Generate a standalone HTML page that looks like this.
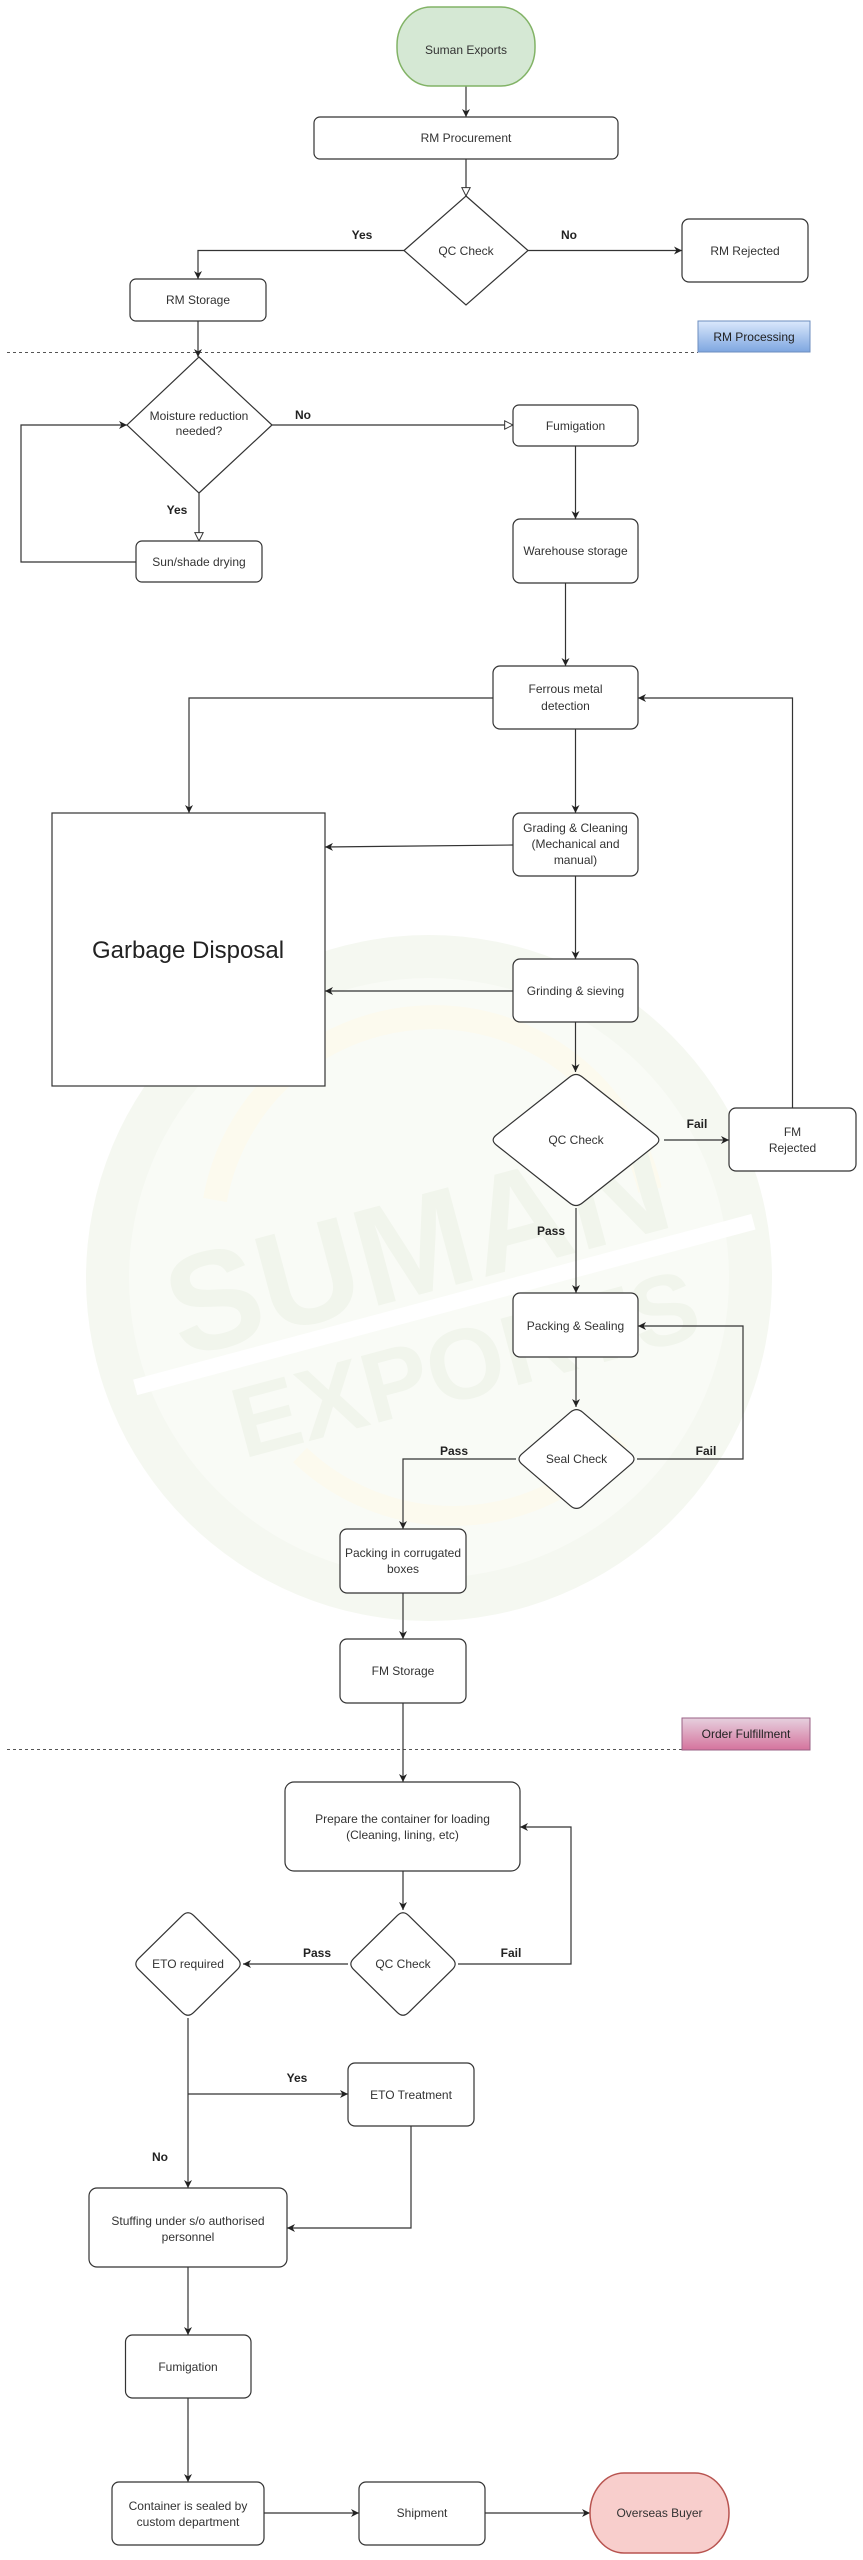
<!DOCTYPE html>
<html>
<head>
<meta charset="utf-8">
<style>
  html,body{margin:0;padding:0;background:#fff;}
  body{width:863px;height:2560px;overflow:hidden;}
  svg{display:block;}
  text{font-family:"Liberation Sans",Arial,Helvetica,sans-serif;}
  .t{font-size:12px;fill:#333;text-anchor:middle;}
  .b{font-size:12px;font-weight:bold;fill:#222;text-anchor:middle;}
  .n{fill:#fff;stroke:#333;stroke-width:1.2;}
  .e{fill:none;stroke:#333;stroke-width:1.2;}
</style>
</head>
<body>
<svg width="863" height="2560" viewBox="0 0 863 2560" xmlns="http://www.w3.org/2000/svg">
  <defs>
    <marker id="a" viewBox="0 0 10 10" refX="10" refY="5" markerWidth="8" markerHeight="8" markerUnits="userSpaceOnUse" orient="auto">
      <path d="M0,0 L10,5 L0,10 L3,5 z" fill="#222"/>
    </marker>
    <marker id="o" viewBox="0 0 12 12" refX="11" refY="6" markerWidth="10" markerHeight="10" markerUnits="userSpaceOnUse" orient="auto">
      <path d="M1,1 L11,6 L1,11 z" fill="#fff" stroke="#333" stroke-width="1.2"/>
    </marker>
    <linearGradient id="gb" x1="0" y1="0" x2="0" y2="1">
      <stop offset="0" stop-color="#dae8fc"/>
      <stop offset="1" stop-color="#7ea6e0"/>
    </linearGradient>
    <linearGradient id="gp" x1="0" y1="0" x2="0" y2="1">
      <stop offset="0" stop-color="#e6d0de"/>
      <stop offset="1" stop-color="#d5739d"/>
    </linearGradient>
  </defs>

  <!-- watermark -->
  <g>
    <circle cx="429" cy="1278" r="343" fill="#f5f8f1"/>
    <circle cx="429" cy="1278" r="300" fill="#f9fbf6"/>
    <path d="M 215 1200 A 222 222 0 0 1 650 1190" fill="none" stroke="#fcfaee" stroke-width="24"/>
    <path d="M 300 1455 A 222 222 0 0 0 620 1440" fill="none" stroke="#fcfaee" stroke-width="20"/>
    <g transform="rotate(-15 429 1290)">
      <rect x="120" y="1300" width="640" height="16" fill="#ffffff"/>
      <text x="429" y="1292" text-anchor="middle" font-size="140" font-weight="bold" fill="#f1f5ec">SUMAN</text>
      <text x="445" y="1405" text-anchor="middle" font-size="100" font-weight="bold" fill="#f1f5ec">EXPORTS</text>
    </g>
  </g>

  <!-- dashed separators -->
  <line x1="7" y1="352.5" x2="698" y2="352.5" stroke="#555" stroke-width="1" stroke-dasharray="3,3"/>
  <line x1="7" y1="1749.5" x2="682" y2="1749.5" stroke="#555" stroke-width="1" stroke-dasharray="3,3"/>

  <!-- edges -->
  <path class="e" d="M466,86 L466,117" marker-end="url(#a)"/>
  <path class="e" d="M466,159 L466,196" marker-end="url(#o)"/>
  <path class="e" d="M404,250.5 L198,250.5 L198,279" marker-end="url(#a)"/>
  <path class="e" d="M528,250.5 L682,250.5" marker-end="url(#a)"/>
  <path class="e" d="M198,321 L198,357" marker-end="url(#a)"/>
  <path class="e" d="M272,425 L513,425" marker-end="url(#o)"/>
  <path class="e" d="M199,493 L199,541" marker-end="url(#o)"/>
  <path class="e" d="M136,562 L21,562 L21,425 L127,425" marker-end="url(#a)"/>
  <path class="e" d="M575.5,446 L575.5,519" marker-end="url(#a)"/>
  <path class="e" d="M565.5,583 L565.5,666" marker-end="url(#a)"/>
  <path class="e" d="M493,698 L189,698 L189,813" marker-end="url(#a)"/>
  <path class="e" d="M575.5,729 L575.5,813" marker-end="url(#a)"/>
  <path class="e" d="M513,845 L325,847" marker-end="url(#a)"/>
  <path class="e" d="M575.5,876 L575.5,959" marker-end="url(#a)"/>
  <path class="e" d="M513,991 L325,991" marker-end="url(#a)"/>
  <path class="e" d="M575.5,1022 L575.5,1072" marker-end="url(#a)"/>
  <path class="e" d="M664,1140 L729,1140" marker-end="url(#a)"/>
  <path class="e" d="M792.5,1108 L792.5,698 L638,698" marker-end="url(#a)"/>
  <path class="e" d="M576,1208 L576,1293" marker-end="url(#a)"/>
  <path class="e" d="M576,1357 L576,1407" marker-end="url(#a)"/>
  <path class="e" d="M637,1459 L743,1459 L743,1326 L638,1326" marker-end="url(#a)"/>
  <path class="e" d="M516,1459 L403,1459 L403,1529" marker-end="url(#a)"/>
  <path class="e" d="M403,1593 L403,1639" marker-end="url(#a)"/>
  <path class="e" d="M403,1703 L403,1782" marker-end="url(#a)"/>
  <path class="e" d="M403,1871 L403,1910" marker-end="url(#a)"/>
  <path class="e" d="M458,1964 L571,1964 L571,1827 L520,1827" marker-end="url(#a)"/>
  <path class="e" d="M348,1964 L243,1964" marker-end="url(#a)"/>
  <path class="e" d="M188,2018 L188,2188" marker-end="url(#a)"/>
  <path class="e" d="M188,2094 L348,2094" marker-end="url(#a)"/>
  <path class="e" d="M411,2126 L411,2228 L287,2228" marker-end="url(#a)"/>
  <path class="e" d="M188,2267 L188,2335" marker-end="url(#a)"/>
  <path class="e" d="M188,2398 L188,2482" marker-end="url(#a)"/>
  <path class="e" d="M264,2513 L359,2513" marker-end="url(#a)"/>
  <path class="e" d="M485,2513 L590,2513" marker-end="url(#a)"/>

  <!-- edge labels -->
  <text class="b" x="362" y="239">Yes</text>
  <text class="b" x="569" y="239">No</text>
  <text class="b" x="303" y="419">No</text>
  <text class="b" x="177" y="514">Yes</text>
  <text class="b" x="697" y="1128">Fail</text>
  <text class="b" x="551" y="1235">Pass</text>
  <text class="b" x="706" y="1455">Fail</text>
  <text class="b" x="454" y="1455">Pass</text>
  <text class="b" x="511" y="1957">Fail</text>
  <text class="b" x="317" y="1957">Pass</text>
  <text class="b" x="297" y="2082">Yes</text>
  <text class="b" x="160" y="2161">No</text>

  <!-- nodes -->
  <rect x="397" y="7" width="138" height="79" rx="34" ry="38" fill="#d5e8d4" stroke="#82b366" stroke-width="1.5"/>
  <text class="t" x="466" y="54">Suman Exports</text>

  <rect class="n" x="314" y="117" width="304" height="42" rx="6"/>
  <text class="t" x="466" y="142">RM Procurement</text>

  <polygon class="n" points="466,196 528,250.5 466,305 404,250.5"/>
  <text class="t" x="466" y="255">QC Check</text>

  <rect class="n" x="682" y="219" width="126" height="63" rx="7"/>
  <text class="t" x="745" y="255">RM Rejected</text>

  <rect class="n" x="130" y="279" width="136" height="42" rx="6"/>
  <text class="t" x="198" y="304">RM Storage</text>

  <rect x="698" y="321" width="112" height="31" fill="url(#gb)" stroke="#6c8ebf" stroke-width="1"/>
  <text class="t" x="754" y="341" style="fill:#222">RM Processing</text>

  <polygon class="n" points="199,357 272,425 199,493 127,425"/>
  <text class="t" x="199" y="420">Moisture reduction</text>
  <text class="t" x="199" y="435">needed?</text>

  <rect class="n" x="513" y="405" width="125" height="41" rx="6"/>
  <text class="t" x="575.5" y="430">Fumigation</text>

  <rect class="n" x="136" y="541" width="126" height="41" rx="6"/>
  <text class="t" x="199" y="566">Sun/shade drying</text>

  <rect class="n" x="513" y="519" width="125" height="64" rx="7"/>
  <text class="t" x="575.5" y="555">Warehouse storage</text>

  <rect class="n" x="493" y="666" width="145" height="63" rx="7"/>
  <text class="t" x="565.5" y="693">Ferrous metal</text>
  <text class="t" x="565.5" y="710">detection</text>

  <rect x="52" y="813" width="273" height="273" fill="#fff" stroke="#333" stroke-width="1.2"/>
  <text x="188" y="958" text-anchor="middle" font-size="24" fill="#222">Garbage Disposal</text>

  <rect class="n" x="513" y="813" width="125" height="63" rx="7"/>
  <text class="t" x="575.5" y="832">Grading &amp; Cleaning</text>
  <text class="t" x="575.5" y="848">(Mechanical and</text>
  <text class="t" x="575.5" y="864">manual)</text>

  <rect class="n" x="513" y="959" width="125" height="63" rx="7"/>
  <text class="t" x="575.5" y="995">Grinding &amp; sieving</text>

  <path class="n" d="M582.3,1077 L655.7,1135 Q662,1140 655.7,1145 L582.3,1203 Q576,1208 569.7,1203 L496.3,1145 Q490,1140 496.3,1135 L569.7,1077 Q576,1072 582.3,1077 Z"/>
  <text class="t" x="576" y="1144">QC Check</text>

  <rect class="n" x="729" y="1108" width="127" height="63" rx="7"/>
  <text class="t" x="792.5" y="1136">FM</text>
  <text class="t" x="792.5" y="1152">Rejected</text>

  <rect class="n" x="513" y="1293" width="125" height="64" rx="7"/>
  <text class="t" x="575.5" y="1330">Packing &amp; Sealing</text>

  <path class="n" d="M582.6,1412.2 L631,1453.8 Q637,1459 631,1464.2 L582.6,1505.8 Q576.5,1511 570.4,1505.8 L522,1464.2 Q516,1459 522,1453.8 L570.4,1412.2 Q576.5,1407 582.6,1412.2 Z"/>
  <text class="t" x="576.5" y="1463">Seal Check</text>

  <rect class="n" x="340" y="1529" width="126" height="64" rx="7"/>
  <text class="t" x="403" y="1557">Packing in corrugated</text>
  <text class="t" x="403" y="1573">boxes</text>

  <rect class="n" x="340" y="1639" width="126" height="64" rx="7"/>
  <text class="t" x="403" y="1675">FM Storage</text>

  <rect x="682" y="1718" width="128" height="32" fill="url(#gp)" stroke="#996185" stroke-width="1"/>
  <text class="t" x="746" y="1738" style="fill:#222">Order Fulfillment</text>

  <rect class="n" x="285" y="1782" width="235" height="89" rx="9"/>
  <text class="t" x="402.5" y="1823">Prepare the container for loading</text>
  <text class="t" x="402.5" y="1839">(Cleaning, lining, etc)</text>

  <path class="n" d="M408.7,1915.6 L452.3,1958.4 Q458,1964 452.3,1969.6 L408.7,2012.4 Q403,2018 397.3,2012.4 L353.7,1969.6 Q348,1964 353.7,1958.4 L397.3,1915.6 Q403,1910 408.7,1915.6 Z"/>
  <text class="t" x="403" y="1968">QC Check</text>

  <path class="n" d="M193.7,1915.6 L237.3,1958.4 Q243,1964 237.3,1969.6 L193.7,2012.4 Q188,2018 182.3,2012.4 L138.7,1969.6 Q133,1964 138.7,1958.4 L182.3,1915.6 Q188,1910 193.7,1915.6 Z"/>
  <text class="t" x="188" y="1968">ETO required</text>

  <rect class="n" x="348" y="2063" width="126" height="63" rx="7"/>
  <text class="t" x="411" y="2099">ETO Treatment</text>

  <rect class="n" x="89" y="2188" width="198" height="79" rx="8"/>
  <text class="t" x="188" y="2225">Stuffing under s/o authorised</text>
  <text class="t" x="188" y="2241">personnel</text>

  <rect class="n" x="125.5" y="2335" width="125.5" height="63" rx="7"/>
  <text class="t" x="188" y="2371">Fumigation</text>

  <rect class="n" x="112" y="2482" width="152" height="63" rx="7"/>
  <text class="t" x="188" y="2510">Container is sealed by</text>
  <text class="t" x="188" y="2526">custom department</text>

  <rect class="n" x="359" y="2482" width="126" height="63" rx="7"/>
  <text class="t" x="422" y="2517">Shipment</text>

  <rect x="590" y="2473" width="139" height="80" rx="34" ry="40" fill="#f8cecc" stroke="#b85450" stroke-width="1.5"/>
  <text class="t" x="659.5" y="2517">Overseas Buyer</text>
</svg>
</body>
</html>
